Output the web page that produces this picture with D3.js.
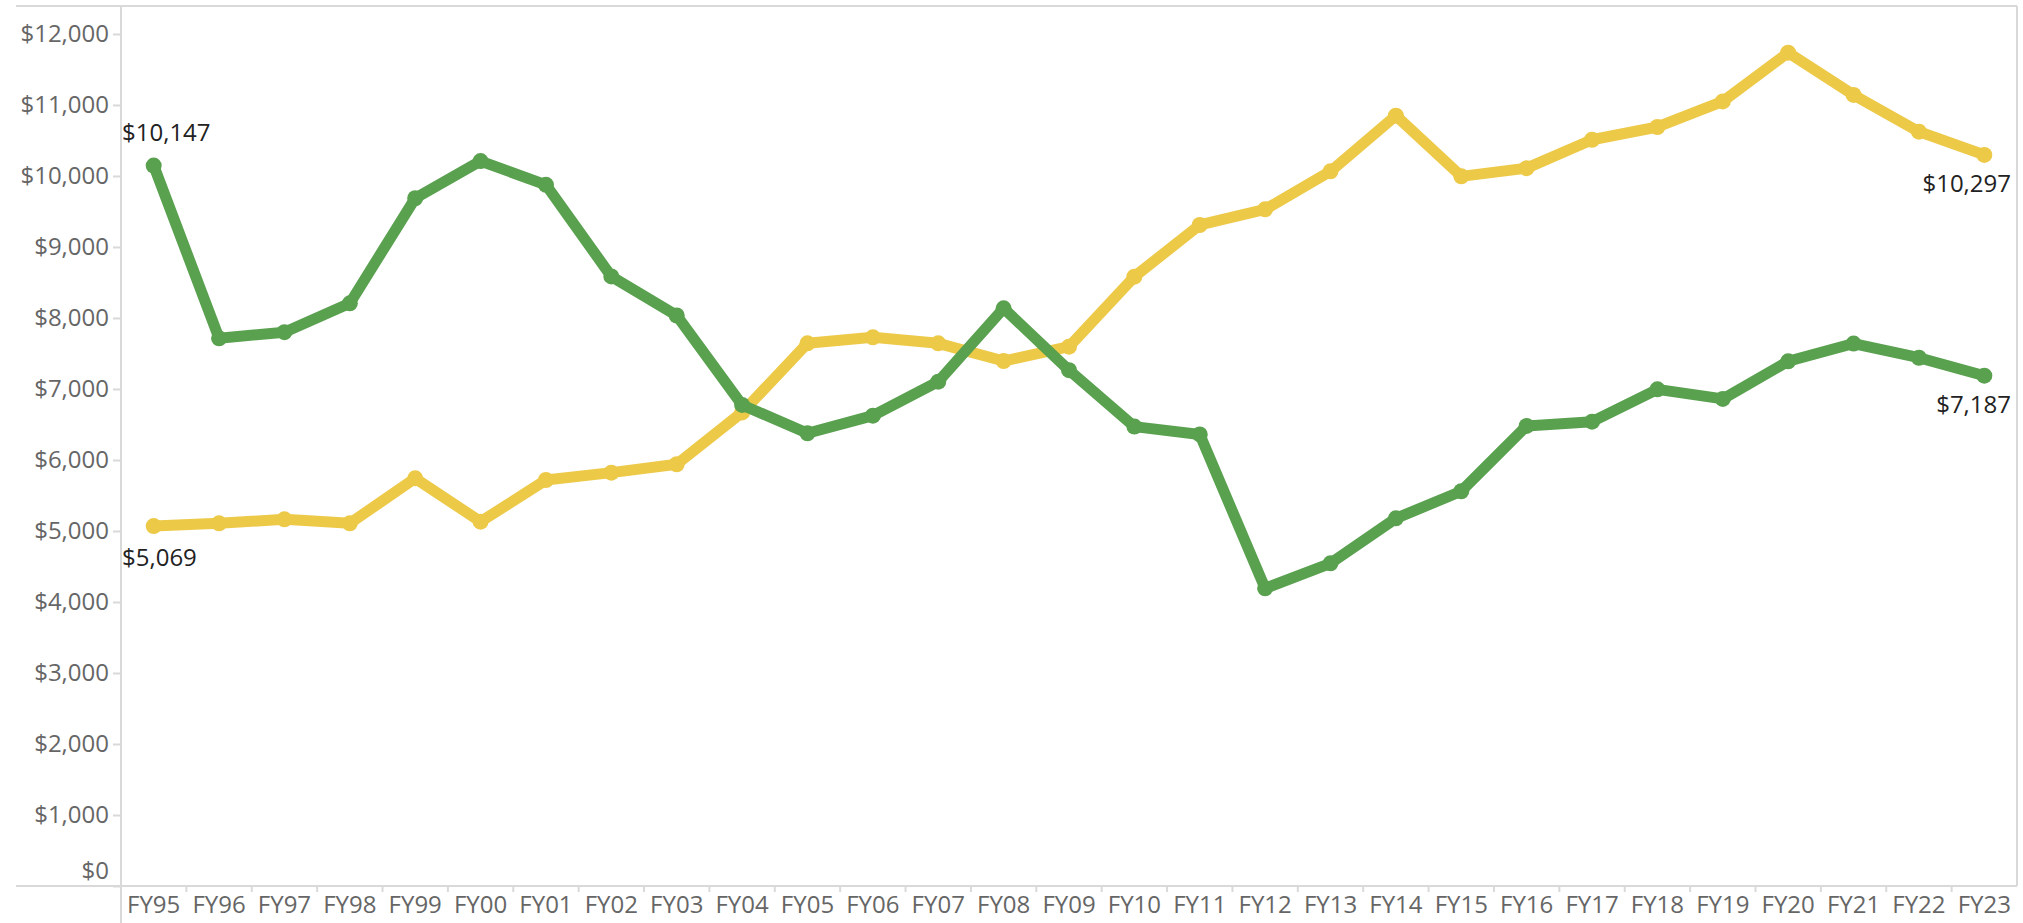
<!DOCTYPE html>
<html>
<head>
<meta charset="utf-8">
<script src="https://cdn.jsdelivr.net/npm/d3@7"></script>
<style>
  body { margin: 0; background: #fff; }
  svg { display: block; font-family: "Open Sans", sans-serif; }
</style>
</head>
<body>
<div id="chart"></div>
<script>
// fiscal years on the x axis
const years = ["FY95","FY96","FY97","FY98","FY99","FY00","FY01","FY02","FY03","FY04",
  "FY05","FY06","FY07","FY08","FY09","FY10","FY11","FY12","FY13","FY14",
  "FY15","FY16","FY17","FY18","FY19","FY20","FY21","FY22","FY23"];

// green line (starts high, ends lower)
const greenValues = [10147, 7714, 7800, 8207, 9686, 10210, 9875, 8585, 8035, 6775,
  6376, 6624, 7103, 8136, 7265, 6470, 6360, 4192, 4545, 5178,
  5560, 6480, 6540, 6995, 6860, 7390, 7640, 7440, 7187];

// gold line (starts low, ends higher)
const goldValues = [5069, 5108, 5164, 5108, 5742, 5131, 5718, 5822, 5940, 6670,
  7643, 7728, 7643, 7394, 7596, 8582, 9310, 9530, 10065, 10850,
  9995, 10110, 10510, 10690, 11050, 11737, 11141, 10624, 10297];

const yTicks = [0, 1000, 2000, 3000, 4000, 5000, 6000, 7000, 8000, 9000, 10000, 11000, 12000];

const W = 2023, H = 923;
const conf = {ml: 121, mr: 6, mt: 6, mb: 37, left: 16, fontSize: 24,
  axisColor: "#d9d9d9", tickText: "#666", labelText: "#222"};

const svg = d3.select("#chart").append("svg")
    .attr("width", W)
    .attr("height", H)
    .attr("viewBox", [0, 0, W, H]);

const x = d3.scaleBand().domain(years).range([conf.ml, W - conf.mr]).padding(0);
const y = d3.scaleLinear().domain([0, 12394]).range([H - conf.mb, conf.mt]);
const fmt = d3.format("$,");
const cx = d => x(d) + x.bandwidth() / 2;

// frame lines
const frame = svg.append("g").attr("stroke", conf.axisColor).attr("stroke-width", 2);
frame.append("line").attr("x1", conf.left).attr("x2", W - conf.mr).attr("y1", conf.mt).attr("y2", conf.mt);
frame.append("line").attr("x1", W - conf.mr).attr("x2", W - conf.mr).attr("y1", conf.mt).attr("y2", H - conf.mb);
frame.append("line").attr("x1", conf.left).attr("x2", W - conf.mr).attr("y1", H - conf.mb).attr("y2", H - conf.mb);
frame.append("line").attr("x1", conf.ml).attr("x2", conf.ml).attr("y1", conf.mt).attr("y2", H);

// y axis
svg.append("g")
    .attr("class", "yAxes")
    .attr("transform", `translate(${conf.ml},0)`)
    .call(d3.axisLeft(y).tickValues(yTicks).tickFormat(fmt).tickSize(8).tickPadding(4))
    .call(g => g.select(".domain").remove())
    .call(g => g.selectAll(".tick line").attr("stroke", conf.axisColor).attr("stroke-width", 2))
    .call(g => g.selectAll(".tick text")
        .attr("fill", conf.tickText)
        .attr("font-size", conf.fontSize)
        .attr("font-family", "Open Sans")
        .attr("dy", d => d === 0 ? "-0.33em" : "0.32em"));

// x axis: labels centred in bands, ticks on band edges
svg.append("g")
    .attr("class", "xAxes")
    .attr("transform", `translate(0,${H - conf.mb})`)
    .call(d3.axisBottom(x).tickSize(0).tickPadding(10))
    .call(g => g.select(".domain").remove())
    .call(g => g.selectAll(".tick text")
        .attr("fill", conf.tickText)
        .attr("font-size", conf.fontSize)
        .attr("font-family", "Open Sans"))
    .call(g => g.selectAll(".edge")
        .data(years.slice(1))
        .enter().append("line")
          .attr("x1", d => x(d)).attr("x2", d => x(d))
          .attr("y1", 0).attr("y2", 6)
          .attr("stroke", conf.axisColor).attr("stroke-width", 2));

// lines and markers
const series = [
  {key: "gold", color: "#EDC948", values: goldValues},
  {key: "green", color: "#59A14F", values: greenValues}
];

const line = d3.line()
    .x((d, i) => cx(years[i]))
    .y(d => y(d));

series.forEach(s => {
  const g = svg.append("g").attr("class", "markers");
  g.append("path")
      .attr("fill", "none")
      .attr("stroke", s.color)
      .attr("stroke-width", 11)
      .attr("stroke-linejoin", "round")
      .attr("d", line(s.values));
  g.selectAll("circle")
      .data(s.values)
      .enter().append("circle")
        .attr("cx", (d, i) => cx(years[i]))
        .attr("cy", d => y(d))
        .attr("r", 8)
        .attr("fill", s.color);
});

// end labels
const last = years.length - 1;
const labels = [
  {year: years[0], value: greenValues[0], anchor: "start", dy: -25},
  {year: years[0], value: goldValues[0], anchor: "start", dy: 40},
  {year: years[last], value: goldValues[last], anchor: "end", dy: 37},
  {year: years[last], value: greenValues[last], anchor: "end", dy: 37}
];

svg.append("g")
  .selectAll("text")
  .data(labels)
  .enter().append("text")
    .attr("x", d => d.anchor === "end" ? x(d.year) + x.bandwidth() - 6 : x(d.year) + 1)
    .attr("y", d => y(d.value) + d.dy)
    .attr("text-anchor", d => d.anchor)
    .attr("fill", conf.labelText)
    .attr("font-size", conf.fontSize)
    .text(d => fmt(d.value));
</script>
</body>
</html>
